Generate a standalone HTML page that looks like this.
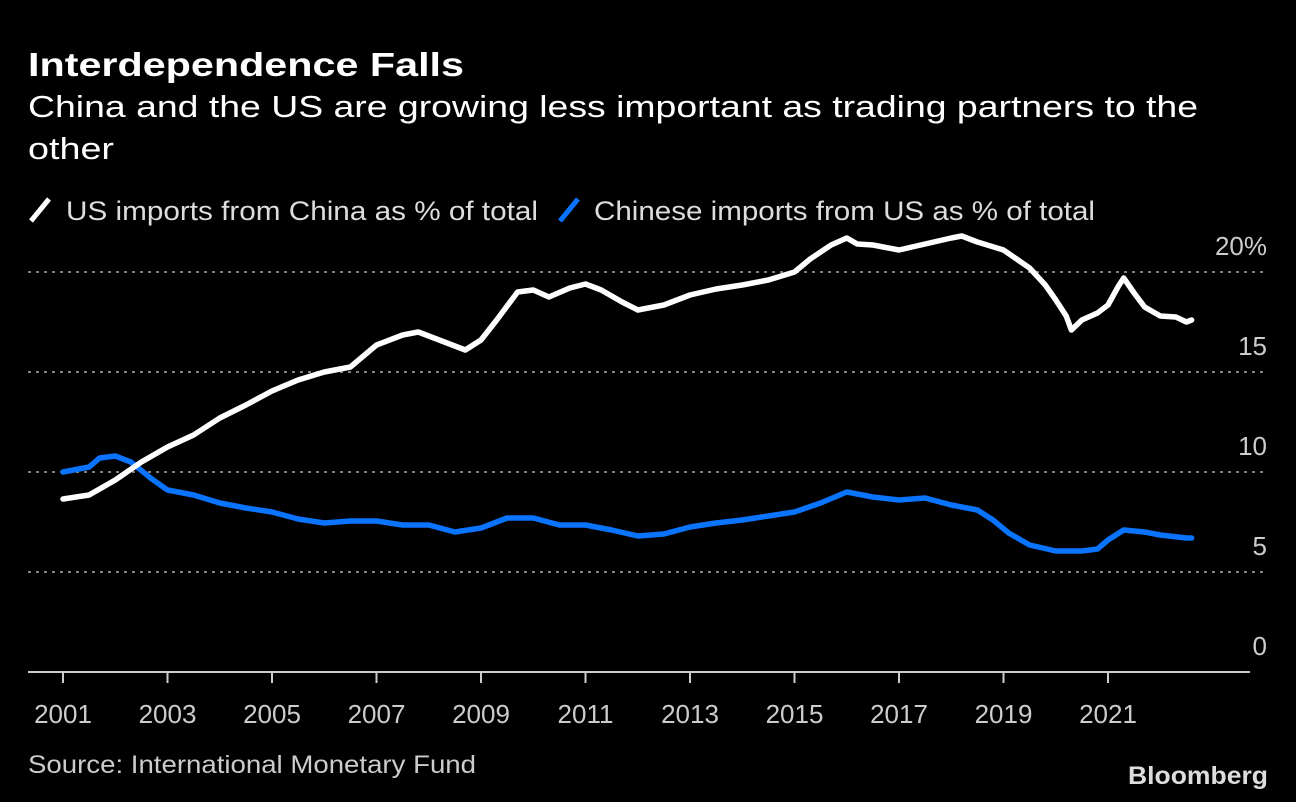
<!DOCTYPE html>
<html><head><meta charset="utf-8"><style>
html,body{margin:0;padding:0;background:#000;}
svg{display:block;font-family:"Liberation Sans",sans-serif;}
</style></head><body>
<svg id="chart" width="1296" height="802" viewBox="0 0 1296 802">
<rect width="1296" height="802" fill="#000"/>
<text x="28" y="76" font-size="33" font-weight="bold" fill="#fff" textLength="436" lengthAdjust="spacingAndGlyphs">Interdependence Falls</text>
<text x="28" y="117" font-size="31" fill="#fff" textLength="1170" lengthAdjust="spacingAndGlyphs">China and the US are growing less important as trading partners to the</text>
<text x="28" y="159" font-size="31" fill="#fff" textLength="86" lengthAdjust="spacingAndGlyphs">other</text>
<g>
<g>
<line x1="31" y1="221" x2="49" y2="199" stroke="#fff" stroke-width="5"/>
<text x="66" y="220" font-size="27" fill="#ddd" textLength="472" lengthAdjust="spacingAndGlyphs">US imports from China as % of total</text>
</g>
<g>
<line x1="560" y1="221" x2="578" y2="199" stroke="#0a74ff" stroke-width="5"/>
<text x="594" y="220" font-size="27" fill="#ddd" textLength="501" lengthAdjust="spacingAndGlyphs">Chinese imports from US as % of total</text>
</g>
</g>
<g id="grid"></g>
<g id="yticks"></g>
<g id="xaxis"></g>
<g id="series"></g>
<text x="28" y="773" font-size="25" fill="#ccc" textLength="448" lengthAdjust="spacingAndGlyphs">Source: International Monetary Fund</text>
<text x="1268" y="784" font-size="25" font-weight="bold" fill="#ddd" text-anchor="end" textLength="140" lengthAdjust="spacingAndGlyphs">Bloomberg</text>
</svg>
<script>
const yTicks = [0, 5, 10, 15, 20];
const yTickLabels = ["0", "5", "10", "15", "20%"];
const xTicks = [2001, 2003, 2005, 2007, 2009, 2011, 2013, 2015, 2017, 2019, 2021];
const usDates = [2001,2001.5,2002,2002.5,2003,2003.5,2004,2004.5,2005,2005.5,2006,2006.5,2007,2007.5,2007.8,2008.3,2008.7,2009,2009.3,2009.7,2010,2010.3,2010.7,2011,2011.3,2011.7,2012,2012.5,2013,2013.5,2014,2014.5,2015,2015.3,2015.7,2016,2016.2,2016.5,2017,2017.5,2018,2018.2,2018.5,2019,2019.5,2019.8,2020,2020.2,2020.3,2020.5,2020.8,2021,2021.2,2021.3,2021.5,2021.7,2022,2022.3,2022.5,2022.6];
const usValues = [8.65,8.85,9.6,10.5,11.25,11.85,12.7,13.35,14.05,14.6,15,15.25,16.35,16.85,17,16.5,16.1,16.6,17.6,19,19.1,18.75,19.2,19.4,19.1,18.5,18.1,18.35,18.85,19.15,19.35,19.6,20,20.65,21.35,21.7,21.4,21.35,21.1,21.4,21.7,21.8,21.5,21.1,20.2,19.35,18.6,17.8,17.1,17.6,17.95,18.35,19.3,19.7,18.95,18.25,17.8,17.75,17.5,17.6];
const cnDates = [2001,2001.5,2001.7,2002,2002.3,2002.7,2003,2003.5,2004,2004.5,2005,2005.5,2006,2006.5,2007,2007.5,2008,2008.5,2009,2009.5,2010,2010.5,2011,2011.5,2012,2012.5,2013,2013.5,2014,2014.5,2015,2015.5,2016,2016.5,2017,2017.5,2018,2018.5,2018.8,2019.1,2019.5,2020,2020.5,2020.8,2021,2021.3,2021.7,2022,2022.5,2022.6];
const cnValues = [10,10.25,10.7,10.8,10.5,9.65,9.1,8.85,8.45,8.2,8,7.65,7.45,7.55,7.55,7.35,7.35,7,7.2,7.7,7.7,7.35,7.35,7.1,6.8,6.9,7.25,7.45,7.6,7.8,8,8.45,9,8.75,8.6,8.7,8.35,8.1,7.6,6.95,6.35,6.05,6.05,6.15,6.6,7.1,7.0,6.85,6.7,6.7];

const NS = "http://www.w3.org/2000/svg";
const xScale = v => 63 + (v - 2001) * 52.25;
const yScale = v => 672 - v * 20;
function mk(tag, attrs, parent) {
  const el = document.createElementNS(NS, tag);
  for (const k in attrs) el.setAttribute(k, attrs[k]);
  parent.appendChild(el);
  return el;
}
const grid = document.getElementById('grid');
const yt = document.getElementById('yticks');
yTicks.forEach((t, i) => {
  if (t > 0) {
    const g = mk('line', {x1: 28, x2: 1268, y1: yScale(t), y2: yScale(t), stroke: '#808080', 'stroke-width': 2, 'stroke-dasharray': '3 5'}, grid);
    
    
  }
  const tx = mk('text', {x: 1267, y: yScale(t) - 17, 'font-size': 26, fill: '#ccc', 'text-anchor': 'end'}, yt);
  tx.textContent = yTickLabels[i];
  
  
});
const xa = document.getElementById('xaxis');
const axl = mk('line', {x1: 28, x2: 1250, y1: 672, y2: 672, stroke: '#ccc', 'stroke-width': 2}, xa);


xTicks.forEach(t => {
  const tk = mk('line', {x1: xScale(t), x2: xScale(t), y1: 672, y2: 683, stroke: '#ccc', 'stroke-width': 2}, xa);
  
  
  const tx = mk('text', {x: xScale(t), y: 723, 'font-size': 26, fill: '#ccc', 'text-anchor': 'middle'}, xa);
  tx.textContent = String(t);
  
  
});
const sg = document.getElementById('series');
function line(dates, vals, color, name) {
  const d = dates.map((x, i) => (i ? 'L' : 'M') + xScale(x).toFixed(1) + ' ' + yScale(vals[i]).toFixed(1)).join(' ');
  const p = mk('path', {d: d, fill: 'none', stroke: color, 'stroke-width': 5.5, 'stroke-linejoin': 'round', 'stroke-linecap': 'round'}, sg);
  
  
}
line(cnDates, cnValues, '#0a74ff', 'chinese-imports-line');
line(usDates, usValues, '#ffffff', 'us-imports-line');
</script>
</body></html>
